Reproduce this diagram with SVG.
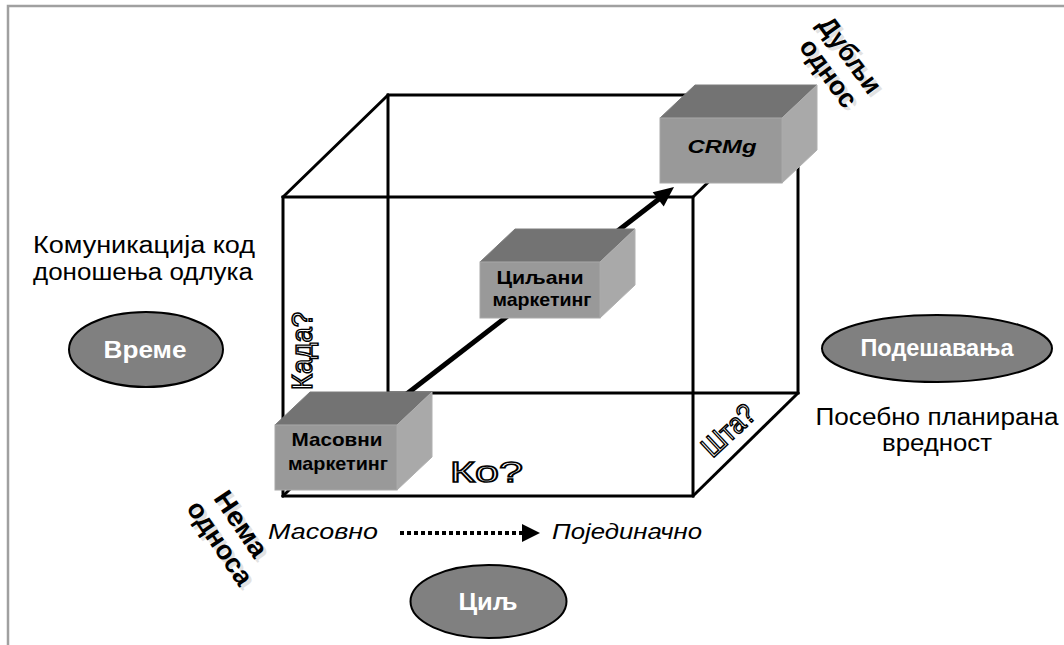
<svg xmlns="http://www.w3.org/2000/svg" width="1064" height="645" viewBox="0 0 1064 645">
  <style>
    .f { font-family: "Liberation Sans", Arial, sans-serif; }
    .lbl { font-size: 23px; fill: #000; text-anchor: middle; }
    .ital { font-size: 22px; font-style: italic; fill: #000; }
    .oval { fill: #808080; stroke: #000; stroke-width: 2; }
    .ovaltxt { font-size: 24px; font-weight: bold; fill: #fff; text-anchor: middle; }
    .boxtxt { font-size: 19px; font-weight: bold; fill: #000; text-anchor: middle; }
    .front { fill: #999; stroke: #a8a8a8; stroke-width: 1; }
    .top { fill: #737373; stroke: #7c7c7c; stroke-width: 1; }
    .side { fill: #a9a9a9; stroke: #b0b0b0; stroke-width: 1; }
    .edge { stroke: #000; stroke-width: 3; fill: none; stroke-linecap: square; }
    .outl { font-size: 29px; fill: #fff; stroke: #000; stroke-width: 1.5; }
    .diag { font-size: 27px; font-weight: bold; fill: #000; text-anchor: middle; }
    .ghost { font-size: 27px; font-weight: bold; fill: #e2e2e2; text-anchor: middle; }
  </style>

  <rect width="1064" height="645" fill="#fff"/>
  <!-- frame -->
  <path d="M8,645 V6 H1064" fill="none" stroke="#a0a0a0" stroke-width="2.5"/>

  <!-- wireframe cube -->
  <g id="cube" class="edge">
    <rect x="283" y="197" width="410" height="299"/>
    <rect x="388" y="95" width="410" height="298"/>
    <line x1="283" y1="197" x2="388" y2="95"/>
    <line x1="693" y1="197" x2="798" y2="95"/>
    <line x1="693" y1="496" x2="798" y2="393"/>
    <line x1="283" y1="496" x2="388" y2="393"/>
  </g>

  <!-- connectors -->
  <g id="connectors">
    <line x1="395" y1="403" x2="659" y2="199" stroke="#000" stroke-width="5"/>
    <polygon points="674,187 663.7,206.4 652.7,192.2" fill="#000"/>
    <line x1="400" y1="533" x2="522" y2="533" stroke="#000" stroke-width="4" stroke-dasharray="4 3"/>
    <polygon points="522,524 540,533 522,542" fill="#000"/>
  </g>

  <!-- boxes -->
  <g id="box-mass">
    <polygon class="top" points="275,425 310,392 432,392 397,425"/>
    <polygon class="side" points="397,425 432,392 432,457 397,490"/>
    <rect class="front" x="275" y="425" width="122" height="65"/>
    <text class="f boxtxt" x="337" y="446" textLength="91" lengthAdjust="spacingAndGlyphs">Масовни</text>
    <text class="f boxtxt" x="338" y="470" textLength="100" lengthAdjust="spacingAndGlyphs">маркетинг</text>
  </g>
  <g id="box-target">
    <polygon class="top" points="480,262 515,229 635,229 600,262"/>
    <polygon class="side" points="600,262 635,229 635,285 600,318"/>
    <rect class="front" x="480" y="262" width="120" height="56"/>
    <text class="f boxtxt" x="540" y="284" textLength="87" lengthAdjust="spacingAndGlyphs">Циљани</text>
    <text class="f boxtxt" x="542" y="306" textLength="99" lengthAdjust="spacingAndGlyphs">маркетинг</text>
  </g>
  <g id="box-crm">
    <polygon class="top" points="660,118 695,85 817,85 782,118"/>
    <polygon class="side" points="782,118 817,85 817,150 782,183"/>
    <rect class="front" x="660" y="118" width="122" height="65"/>
    <text class="f boxtxt" x="722" y="153" font-size="23" font-style="italic" textLength="69" lengthAdjust="spacingAndGlyphs">CRMg</text>
  </g>

  <!-- axis questions -->
  <g id="q-who">
    <text class="f outl" x="450" y="482" textLength="73" lengthAdjust="spacingAndGlyphs">Ко?</text>
  </g>
  <g id="q-when">
    <text class="f outl" transform="translate(312,390) rotate(-90)" x="0" y="0" textLength="78" lengthAdjust="spacingAndGlyphs">Када?</text>
  </g>
  <g id="q-what">
    <text class="f outl" transform="translate(729,431) rotate(-43)" x="0" y="9" text-anchor="middle" font-size="25" textLength="62" lengthAdjust="spacingAndGlyphs">Шта?</text>
  </g>

  <!-- ovals -->
  <g id="oval-time">
    <ellipse class="oval" cx="146" cy="349.5" rx="77" ry="37.5"/>
    <text class="f ovaltxt" x="145" y="358" textLength="83" lengthAdjust="spacingAndGlyphs">Време</text>
  </g>
  <g id="oval-goal">
    <ellipse class="oval" cx="488.5" cy="601.5" rx="78" ry="36.5"/>
    <text class="f ovaltxt" x="488" y="610" textLength="59" lengthAdjust="spacingAndGlyphs">Циљ</text>
  </g>
  <g id="oval-tune">
    <ellipse class="oval" cx="937" cy="348.5" rx="115" ry="33.5"/>
    <text class="f ovaltxt" x="937" y="356" font-size="22" textLength="153" lengthAdjust="spacingAndGlyphs">Подешавања</text>
  </g>

  <!-- side captions -->
  <g id="caption-left">
    <text class="f lbl" x="144" y="253" textLength="222" lengthAdjust="spacingAndGlyphs">Комуникација код</text>
    <text class="f lbl" x="143" y="280" textLength="220" lengthAdjust="spacingAndGlyphs">доношења одлука</text>
  </g>
  <g id="caption-right">
    <text class="f lbl" x="937" y="425" textLength="243" lengthAdjust="spacingAndGlyphs">Посебно планирана</text>
    <text class="f lbl" x="937" y="451" textLength="110" lengthAdjust="spacingAndGlyphs">вредност</text>
  </g>
  <g id="caption-bottom">
    <text class="f ital" x="268" y="539" textLength="110" lengthAdjust="spacingAndGlyphs">Масовно</text>
    <text class="f ital" x="552" y="539" textLength="150" lengthAdjust="spacingAndGlyphs">Појединачно</text>
  </g>

  <!-- corner labels -->
  <g id="corner-none">
    <g transform="translate(244,527) rotate(56)">
      <text class="f ghost" x="0" y="9" textLength="74" lengthAdjust="spacingAndGlyphs">Нема</text>
      <text class="f ghost" x="4" y="37" textLength="96" lengthAdjust="spacingAndGlyphs">односа</text>
    </g>
    <g transform="translate(241,524) rotate(56)">
      <text class="f diag" x="0" y="9" textLength="74" lengthAdjust="spacingAndGlyphs">Нема</text>
      <text class="f diag" x="4" y="37" textLength="96" lengthAdjust="spacingAndGlyphs">односа</text>
    </g>
  </g>
  <g id="corner-deep">
    <g transform="translate(853,58) rotate(54)">
      <text class="f ghost" x="0" y="9" textLength="88" lengthAdjust="spacingAndGlyphs">Дубљи</text>
      <text class="f ghost" x="2" y="37" textLength="78" lengthAdjust="spacingAndGlyphs">однос</text>
    </g>
    <g transform="translate(850,55) rotate(54)">
      <text class="f diag" x="0" y="9" textLength="88" lengthAdjust="spacingAndGlyphs">Дубљи</text>
      <text class="f diag" x="2" y="37" textLength="78" lengthAdjust="spacingAndGlyphs">однос</text>
    </g>
  </g>
</svg>
